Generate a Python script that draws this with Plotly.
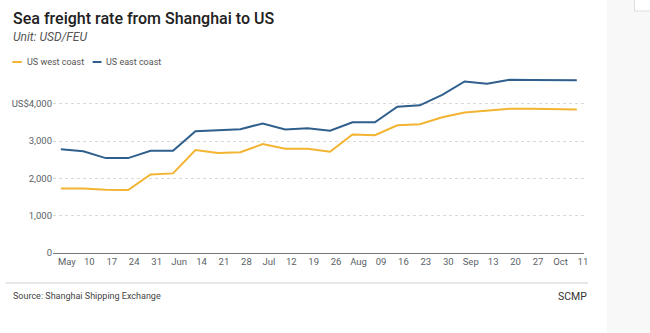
import plotly.graph_objects as go

# ---- data ----
week_labels = ["May", "10", "17", "24", "31", "Jun", "14", "21", "28", "Jul", "12", "19",
               "26", "Aug", "09", "16", "23", "30", "Sep", "13", "20", "27", "Oct", "11"]
west_coast = [1730, 1730, 1695, 1690, 2105, 2135, 2760, 2680, 2700, 2920, 2795, 2795,
              2715, 3180, 3160, 3425, 3455, 3640, 3765, 3820, 3865, 3865, 3860, 3850]
east_coast = [2780, 2730, 2545, 2545, 2740, 2740, 3265, 3295, 3320, 3475, 3315, 3345,
              3280, 3505, 3505, 3925, 3960, 4240, 4600, 4540, 4645, 4640, 4635, 4635]
y_ticks = [0, 1000, 2000, 3000, 4000]
y_tick_text = ["0", "1,000", "2,000", "3,000", "US$4,000"]

# ---- layout geometry ----
W_FIG, H_FIG = 650, 333
L, R, T, B = 48, 66, 74, 80
PW = W_FIG - L - R
PH = H_FIG - T - B
BOTTOM = H_FIG - B

def xp(px):
    return (px - L) / PW

def yp(py):
    return (BOTTOM - py) / PH

YELLOW = "#f3b431"
BLUE = "#2f5f8c"
FONT = "Roboto, Arial, sans-serif"
FONT_MED = "Roboto Medium, Roboto, Arial, sans-serif"

x_idx = list(range(len(week_labels)))

fig = go.Figure()
fig.add_trace(go.Scatter(x=x_idx, y=west_coast, mode="lines", name="US west coast",
                         line=dict(color=YELLOW, width=2), hoverinfo="x+y"))
fig.add_trace(go.Scatter(x=x_idx, y=east_coast, mode="lines", name="US east coast",
                         line=dict(color=BLUE, width=2), hoverinfo="x+y"))

shapes = []
annotations = []

# right-hand light panel
shapes.append(dict(type="rect", xref="paper", yref="paper",
                   x0=xp(607), x1=xp(651), y0=yp(334), y1=yp(-1),
                   fillcolor="#f8f8f8", line=dict(width=0), layer="below"))
shapes.append(dict(type="rect", xref="paper", yref="paper",
                   x0=xp(635), x1=xp(652), y0=yp(11), y1=yp(-2),
                   fillcolor="#ffffff", line=dict(color="#dddddd", width=1), layer="below"))

# separator line above footer
shapes.append(dict(type="line", xref="paper", yref="paper",
                   x0=xp(0), x1=xp(588), y0=yp(283), y1=yp(283),
                   line=dict(color="#d0d0d0", width=1)))

# legend (manual)
shapes.append(dict(type="line", xref="paper", yref="paper",
                   x0=xp(7), x1=xp(16.5), y0=yp(62), y1=yp(62),
                   line=dict(color=YELLOW, width=2)))
shapes.append(dict(type="line", xref="paper", yref="paper",
                   x0=xp(88), x1=xp(97), y0=yp(62), y1=yp(62),
                   line=dict(color=BLUE, width=2)))
annotations.append(dict(text="US west coast", xref="paper", yref="paper",
                        x=xp(20), y=yp(62), xanchor="left", yanchor="middle",
                        showarrow=False, font=dict(family=FONT, size=9, color="#555555")))
annotations.append(dict(text="US east coast", xref="paper", yref="paper",
                        x=xp(99), y=yp(62), xanchor="left", yanchor="middle",
                        showarrow=False, font=dict(family=FONT, size=9, color="#555555")))

# title + subtitle
annotations.append(dict(text="Sea freight rate from Shanghai to US", xref="paper", yref="paper",
                        x=xp(6), y=yp(19), xanchor="left", yanchor="middle", showarrow=False,
                        font=dict(family=FONT_MED, size=16, color="#222222")))
annotations.append(dict(text="<i>Unit: USD/FEU</i>", xref="paper", yref="paper",
                        x=xp(6), y=yp(37.5), xanchor="left", yanchor="middle", showarrow=False,
                        font=dict(family=FONT, size=12, color="#555555")))

# footer
annotations.append(dict(text="Source: Shanghai Shipping Exchange", xref="paper", yref="paper",
                        x=xp(6), y=yp(296), xanchor="left", yanchor="middle", showarrow=False,
                        font=dict(family=FONT, size=9, color="#444444")))
annotations.append(dict(text="SCMP", xref="paper", yref="paper",
                        x=xp(589), y=yp(296), xanchor="right", yanchor="middle", showarrow=False,
                        font=dict(family=FONT, size=10.5, color="#333333")))

fig.update_layout(
    width=W_FIG, height=H_FIG,
    margin=dict(l=L, r=R, t=T, b=B),
    paper_bgcolor="white", plot_bgcolor="white",
    showlegend=False,
    shapes=shapes, annotations=annotations,
    font=dict(family=FONT, size=9.5, color="#5a5f66"),
)
fig.update_xaxes(
    range=[-0.35, 23.32],
    tickmode="array",
    tickvals=[i + 0.27 for i in x_idx],
    ticktext=week_labels,
    showgrid=False, zeroline=False,
    showline=True, linecolor="#777777", linewidth=1,
    ticks="", tickfont=dict(size=9.5, color="#5a5f66"),
)
fig.update_yaxes(
    range=[0, 4800],
    tickmode="array", tickvals=y_ticks, ticktext=y_tick_text,
    showgrid=True, gridcolor="#d9d9d9", griddash="dot", gridwidth=1,
    zeroline=False, showline=False, ticks="",
    tickfont=dict(size=9.5, color="#5a5f66"),
)

fig.write_html("out.html")
